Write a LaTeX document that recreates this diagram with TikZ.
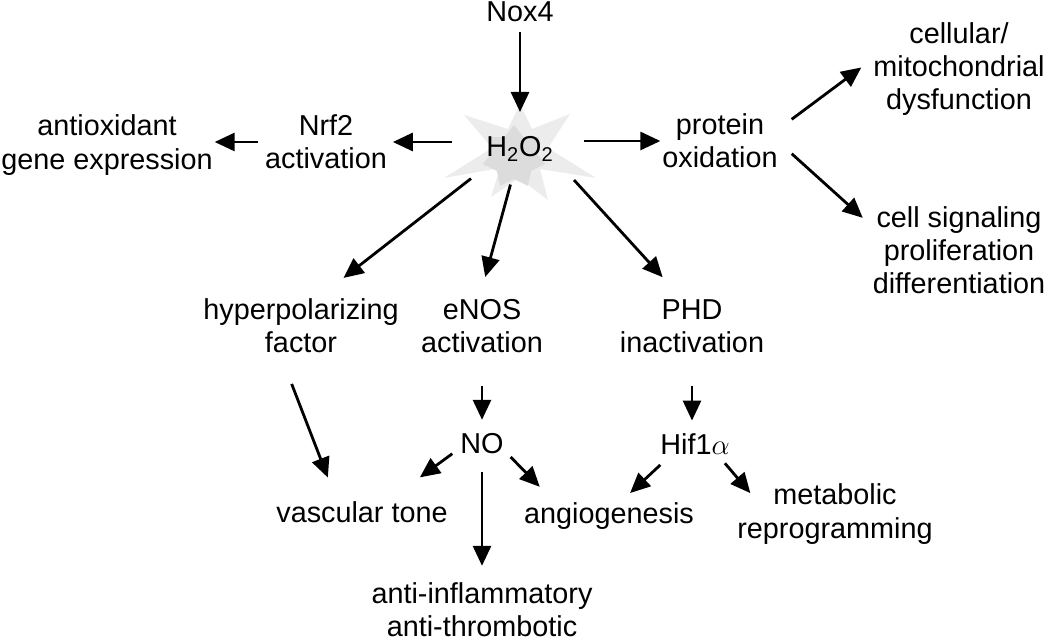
\documentclass[tikz,border=0pt]{standalone}
\usepackage{fontspec}
\setmainfont{Liberation Sans}
\usetikzlibrary{arrows.meta,shapes.geometric}
\definecolor{starlight}{HTML}{ECECEC}
\definecolor{stardark}{HTML}{DCDCDC}
\begin{document}
\begin{tikzpicture}[x=0.5pt,y=-0.5pt,
  lbl/.style={align=center,inner sep=0pt,outer sep=0pt,font=\fontsize{14.4pt}{16.6pt}\selectfont},
  arr/.style={line width=1.4pt,-{Triangle[length=10pt,width=9pt]}}]
\useasboundingbox (0,0) rectangle (1050,641);

% burst behind H2O2
\begin{scope}[shift={(520,152)}]
\fill[starlight] (-56,-37)--(-12,-23)--(0,-48)--(12,-23)--(50,-38)--(28,-4)--(76,26)--(20,17)
  --(28,48)--(-1,26)--(-29,45)--(-20,16)--(-76,26)--(-28,-4)--cycle;
\end{scope}
\node[star,star points=7,star point ratio=1.45,minimum size=32pt,inner sep=0pt,fill=stardark] (glow) at (514,157) {};

\node[lbl] (nox) at (520,12) {Nox4};
\node[lbl,ellipse,minimum width=62pt,minimum height=34pt] (h2o2) at (520,149) {H\textsubscript{2}O\textsubscript{2}};
\node[lbl] (nrf2) at (326,142) {Nrf2\\activation};
\node[lbl] (antiox) at (107,145) {antioxidant\\gene expression};
\node[lbl] (protein) at (720,141) {protein\\oxidation};
\node[lbl] (cellular) at (959,69) {cellular/\\mitochondrial\\dysfunction};
\node[lbl] (signal) at (959,250) {cell signaling\\proliferation\\differentiation};
\node[lbl] (hyper) at (301,326) {hyperpolarizing\\factor};
\node[lbl] (enos) at (482,326) {eNOS\\activation};
\node[lbl] (phd) at (692,326) {PHD\\inactivation};
\node[lbl] (no) at (482,444) {NO};
\node[lbl] (hif) at (695,444) {Hif1$\alpha$};
\node[lbl] (vascular) at (362,512) {vascular tone};
\node[lbl] (angio) at (609,516) {angiogenesis};
\node[lbl] (metab) at (835,514) {metabolic\\reprogramming};
\node[lbl] (anti) at (482,610) {anti-inflammatory\\anti-thrombotic};

\draw[arr,shorten <=5pt,shorten >=1.5pt] (nox) -- (h2o2);
\draw[arr,shorten <=3pt,shorten >=3pt] (h2o2.west |- nrf2.east) -- (nrf2.east);
\draw[arr,shorten <=3.5pt,shorten >=1pt] (nrf2.west) -- (nrf2.west -| antiox.east);
\draw[arr,shorten <=1pt,shorten >=1pt] (h2o2.east |- protein.west) -- (protein.west);
\draw[arr,shorten <=8.75pt,shorten >=7.5pt] (protein.11) -- (cellular.173);
\draw[arr,shorten <=9.5pt,shorten >=6.75pt] (protein.east) -- (signal.165);
\draw[arr,shorten <=4pt,shorten >=17pt] (h2o2.-150) -- (hyper.60);
\draw[arr,shorten <=1pt,shorten >=11.5pt] (h2o2.-105) -- (enos.96);
\draw[arr,shorten <=5.7pt,shorten >=15pt] (h2o2.-26) -- (phd.109);
\draw[arr,shorten <=16.5pt,shorten >=7pt] (enos) -- (no);
\draw[arr,shorten <=16.5pt,shorten >=6.5pt] (phd.south) -- (phd.south |- hif.north);
\draw[arr,shorten <=16.5pt,shorten >=12.8pt] (hyper.-128) -- (vascular.157);
\draw[arr,shorten <=5pt,shorten >=20.4pt] (no.-170) -- (vascular.23);
\draw[arr,shorten <=5pt,shorten >=11pt] (no.-15) -- (angio.166);
\draw[arr,shorten <=9pt,shorten >=8.5pt] (no) -- (anti);
\draw[arr,shorten <=7.7pt,shorten >=7pt] (hif.-156) -- (angio.51);
\draw[arr,shorten <=5.8pt,shorten >=-6pt] (hif.-25) -- (metab.162);
\end{tikzpicture}
\end{document}
